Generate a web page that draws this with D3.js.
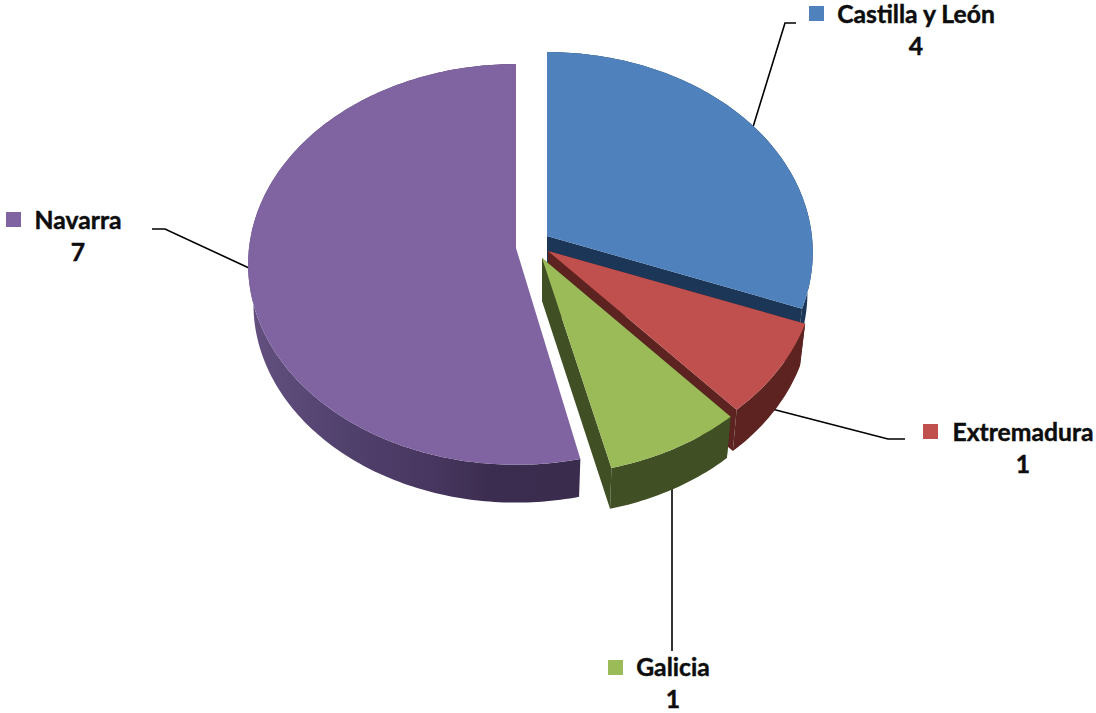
<!DOCTYPE html>
<html><head><meta charset="utf-8">
<script src="https://cdn.jsdelivr.net/npm/d3@7"></script>
<style>html,body{margin:0;padding:0;background:#fff}svg{display:block}
text{font-family:Lato,sans-serif;font-weight:700;font-size:24.7px;fill:#0d0d0d;stroke:#0d0d0d;stroke-width:.45px}</style>
</head><body><svg id="c" width="1096" height="713"></svg>
<script>
const categories = ["Castilla y León","Extremadura","Galicia","Navarra"];
const values = [4,1,1,7];
const topColors = ["#4f81bd","#c0504d","#9bbb59","#8064a2"];
const wallColors = ["#1c3658","#5c2320","#404f24","url(#wallPurple)"];
const apexes = [[547,236],[548,251],[542,258],[516,248]];
const startTrim = [0,0,0,0.018];
const radiusFactor = [0.992,1,1,1];
const depths = [40,43,43,40];
const labelAt = [[916,23],[1023,441],[673,676],[78,229]];
const keyAt = [[809,6],[923,424],[608,660],[6,212]];
const leaders = [
  [[796,23],[785,23],[753,127]],
  [[905,439],[888,439],[772,409]],
  [[672,651],[672,487]],
  [[152,229],[165,229],[249,268]]
];
const R=267, Ry=199, K=0.082, SHRINK=0.98, SHRINKY=0.99;
const svg=d3.select("#c");
const color=d3.scaleOrdinal(categories,topColors);
const wall=d3.scaleOrdinal(categories,wallColors);

const defs=svg.append("defs");
const g=defs.append("linearGradient").attr("id","wallPurple").attr("gradientUnits","userSpaceOnUse")
  .attr("x1",250).attr("x2",585).attr("y1",0).attr("y2",0);
[[0,"#63507f"],[0.3,"#50406c"],[0.55,"#47365f"],[0.72,"#3b2d4f"],[1,"#3a2c4d"]].forEach(s=>g.append("stop").attr("offset",s[0]).attr("stop-color",s[1]));

const arcs=d3.pie().sort(null).startAngle(0).endAngle(2*Math.PI)(values);
function proj(i,t,bottom){
  const [ax,ay]=apexes[i];
  const w=1+K*Math.cos(t);
  const x=R*radiusFactor[i]*Math.sin(t)/w*(bottom?SHRINK:1), y=-Ry*Math.cos(t)/w*(bottom?SHRINKY:1);
  return [ax+x, ay+y+(bottom?depths[i]:0)];
}
const line=d3.line();
function arcPts(i,a,bottom){
  const s=a.startAngle+startTrim[i];
  const n=Math.ceil((a.endAngle-s)*60);
  return d3.range(n+1).map(j=>proj(i,s+(a.endAngle-s)*j/n,bottom));
}
// leader lines sit behind the pie
svg.append("g").selectAll("path").data(leaders).join("path")
  .attr("d",d=>line(d)).attr("fill","none").attr("stroke","#000").attr("stroke-width",1.6);

const order=[0,3,1,2];
order.forEach(i=>{
  const a=arcs[i],c=categories[i],[ax,ay]=apexes[i];
  const gS=svg.append("g").attr("class","slice");
  const top=arcPts(i,a,false),bot=arcPts(i,a,true);
  gS.append("path").attr("d",line(top.concat(bot.slice().reverse()))+"Z").attr("fill",wall(c));
  [[top[0],bot[0]],[top[top.length-1],bot[bot.length-1]]].forEach(([p,q])=>{
    gS.append("path").attr("d",line([[ax,ay],p,q,[ax,ay+depths[i]]])+"Z").attr("fill",i===3?"none":wall(c));
  });
  gS.append("path").attr("d",line([[ax,ay]].concat(top))+"Z").attr("fill",color(c));
});

const lab=svg.append("g");
categories.forEach((c,i)=>{
  lab.append("rect").attr("x",keyAt[i][0]).attr("y",keyAt[i][1]).attr("width",15).attr("height",15).attr("fill",color(c));
  lab.append("text").attr("x",labelAt[i][0]).attr("y",labelAt[i][1]).attr("text-anchor","middle").text(c);
  lab.append("text").attr("x",labelAt[i][0]).attr("y",labelAt[i][1]+32).attr("text-anchor","middle").text(values[i]);
});
</script></body></html>
